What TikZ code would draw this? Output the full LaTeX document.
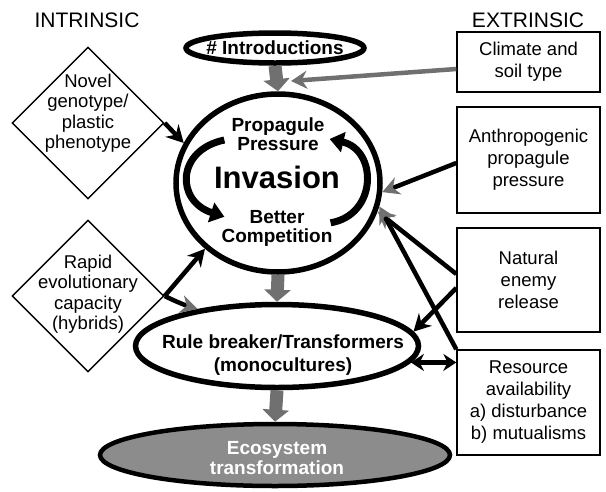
\documentclass[tikz,border=0pt]{standalone}
\usepackage{fontspec}
\setmainfont{Liberation Sans}
\usetikzlibrary{shapes.geometric}
\usetikzlibrary{arrows.meta}
\definecolor{arrgray}{RGB}{112,112,112}
\definecolor{ecogray}{RGB}{140,140,140}
\newcommand{\plainsz}{\fontsize{18.5}{22}\selectfont}
\newcommand{\boldsz}{\fontsize{19}{19}\selectfont\bfseries}

\begin{document}
\begin{tikzpicture}[x=1pt, y=-1pt,
        ring/.style = {ellipse, draw, line width=5.5pt, inner sep=0pt},
        rbox/.style = {rectangle, draw, line width=1.4pt, minimum width=143pt, inner sep=0pt, align=center, font=\plainsz},
        diam/.style = {diamond, draw, line width=1.4pt, minimum width=152pt, minimum height=152pt, inner sep=0pt},
        txt/.style = {align=center, inner sep=0pt},
        blk/.style = {line width=4.5pt, -{Stealth[length=17pt, width=18pt]}},
        gblk/.style = {line width=4.5pt, -{Stealth[length=17pt, width=18pt, color=arrgray]}},
        bigflow/.style = {line width=13pt, draw=arrgray, -{Triangle[length=12pt, width=26pt]}},
        swirl/.style = {line width=7pt, -{Triangle[length=14pt, width=20pt]}}]
                \useasboundingbox (0,0) rectangle (606,491);

                % headings
                \node[txt, font=\fontsize{21}{21}\selectfont] (intr) at (87,20) {INTRINSIC};
                \node[txt, font=\fontsize{21}{21}\selectfont] (extr) at (528,20) {EXTRINSIC};

                % middle column
                \node[ring, minimum width=178pt, minimum height=30pt] (intro) at (275,48) {};
                \node[txt, font=\boldsz] (intro-t) at (intro.center) {\# Introductions};
                \node[ring, minimum width=204pt, minimum height=178pt] (invasion) at (278,183) {};
                \node[txt, font=\boldsz] (pp) at (278,134) {Propagule\\Pressure};
                \node[txt, font=\fontsize{31}{31}\selectfont\bfseries] (inv-t) at (277,177) {Invasion};
                \node[txt, font=\boldsz] (bc) at (277,228) {Better\\Competition};
                \node[ring, minimum width=283pt, minimum height=83pt] (rule) at (277,346) {};
                \node[txt, font=\fontsize{19}{23}\selectfont\bfseries] (rule-t) at (283,355) {Rule breaker/Transformers\\(monocultures)};
                \node[ring, fill=ecogray, line width=4.5pt, minimum width=350pt, minimum height=62pt] (eco) at (275,455) {};
                \node[txt, font=\fontsize{19}{20}\selectfont\bfseries, text=white] (eco-t) at (277,458) {Ecosystem\\transformation};

                % intrinsic
                \node[diam] (novel) at (88,123) {};
                \node[txt, font=\fontsize{18.5}{20.5}\selectfont] (novel-t) at (88,113) {Novel\\genotype/\\plastic\\phenotype};
                \node[diam] (rapid) at (88,296) {};
                \node[txt, font=\fontsize{18.5}{20.5}\selectfont] (rapid-t) at (88,294) {Rapid\\evolutionary\\capacity\\(hybrids)};

                % extrinsic
                \node[rbox, minimum height=60pt] (clim) at (528.5,62) {Climate and\\soil type};
                \node[rbox, minimum height=106pt] (anth) at (528.5,160) {Anthropogenic\\propagule\\pressure};
                \node[rbox, minimum height=104pt] (nat) at (528.5,280) {Natural\\enemy\\release};
                \node[rbox, minimum height=105pt] (res) at (528.5,402.5) {Resource\\availability\\a) disturbance\\b) mutualisms};

                \coordinate (clim-tip) at (291,81);

                % cycle inside invasion
                \draw[swirl] ([xshift=-7pt,yshift=-6pt]pp.west) .. controls +(-48,10) and +(-49,-16) .. ([xshift=3pt,yshift=-7pt]bc.north west);
                \draw[swirl] ([xshift=-2pt,yshift=-13pt]bc.north east) .. controls +(47,-8) and +(48,11) .. ([xshift=5pt,yshift=-5pt]pp.east);

                % arrows
                \draw[bigflow] (intro.south) -- (invasion.north);
                \draw[bigflow] (invasion.south) -- (rule.north);
                \draw[bigflow] (rule.south) -- (eco.north);
                \draw[line width=4.5pt, arrgray, -{Stealth[length=16pt, width=18pt]}] ([yshift=-7pt]clim.west) -- (clim-tip);
                \draw[blk] (novel.east) -- (invasion.157);
                \draw[blk] (rapid.east) -- (invasion.222);
                \draw[gblk] (rapid.east) .. controls +(14,7) and +(-10,-3) .. (rule.155);
                \draw[gblk] ([yshift=-3pt]anth.west) -- (invasion.-5);
                \draw[gblk] ([yshift=6pt]nat.west) -- (invasion.-16);
                \draw[gblk] (res.north west) -- (invasion.-13);
                \draw[blk] ([yshift=-8pt]nat.west) -- (rule.6);
                \draw[line width=4.5pt, {Stealth[length=13pt, width=17pt]}-{Stealth[length=13pt, width=17pt]}] (rule.-7) -- (rule.-7 -| res.west);

            \end{tikzpicture}
\end{document}
